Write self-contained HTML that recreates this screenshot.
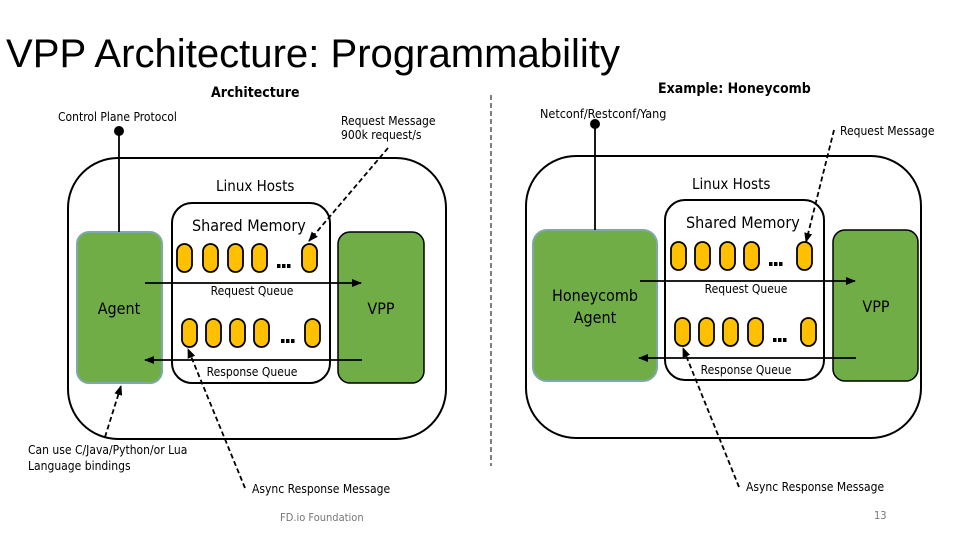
<!DOCTYPE html>
<html><head><meta charset="utf-8"><style>
html,body{margin:0;padding:0;background:#fff;}
svg{display:block;font-family:"Liberation Sans",sans-serif;}
.t{font-family:"DejaVu Sans Condensed","Liberation Sans",sans-serif;}
</style></head><body>
<svg width="960" height="540" viewBox="0 0 960 540" xmlns="http://www.w3.org/2000/svg">
<defs>
<marker id="a" markerWidth="10" markerHeight="10" refX="9" refY="5" orient="auto" markerUnits="userSpaceOnUse"><path d="M0,1 L10,5 L0,9 z" fill="#000"/></marker>
<g id="ov"><rect x="0" y="0" width="15" height="28" rx="7.5" fill="#ffc000" stroke="#000" stroke-width="1.8"/></g>
<g id="dots"><rect x="0" y="0" width="3.5" height="4" fill="#000"/><rect x="5" y="0" width="3.5" height="4" fill="#000"/><rect x="10" y="0" width="3.5" height="4" fill="#000"/></g>
</defs>
<text x="6" y="67" font-size="40" fill="#000" textLength="614" lengthAdjust="spacingAndGlyphs">VPP Architecture: Programmability</text>
<text x="211" y="97" font-size="14" font-weight="bold" class="t">Architecture</text>
<text x="658" y="93" font-size="14" font-weight="bold" class="t">Example: Honeycomb</text>
<line x1="491" y1="95" x2="491" y2="466" stroke="#000" stroke-width="1" stroke-dasharray="5,3"/>

<!-- LEFT -->
<text x="58" y="121" font-size="12" class="t">Control Plane Protocol</text>
<text x="341" y="125" font-size="12" class="t">Request Message</text>
<text x="341" y="139" font-size="12" class="t">900k request/s</text>
<rect x="68" y="158" width="378" height="281" rx="50" fill="none" stroke="#000" stroke-width="2"/>
<text x="216" y="191" font-size="15" class="t">Linux Hosts</text>
<rect x="172" y="203" width="158" height="180" rx="20" fill="#fff" stroke="#000" stroke-width="2"/>
<text x="192" y="231" font-size="16" class="t">Shared Memory</text>
<rect x="77" y="232" width="85" height="151" rx="12" fill="#70ad47" stroke="#7fa9a6" stroke-width="2"/>
<rect x="338" y="232" width="86" height="151" rx="12" fill="#70ad47" stroke="#000" stroke-width="1.5"/>
<text x="119" y="314" font-size="16" text-anchor="middle" class="t">Agent</text>
<text x="381" y="314" font-size="16" text-anchor="middle" class="t">VPP</text>
<line x1="119" y1="131" x2="119" y2="232" stroke="#000" stroke-width="1.8"/>
<circle cx="119" cy="131" r="5" fill="#000"/>
<use href="#ov" x="177" y="244"/><use href="#ov" x="203" y="244"/><use href="#ov" x="228" y="244"/><use href="#ov" x="252" y="244"/><use href="#dots" x="277" y="264"/><use href="#ov" x="302" y="244"/>
<use href="#ov" x="182" y="319"/><use href="#ov" x="206" y="319"/><use href="#ov" x="230" y="319"/><use href="#ov" x="254" y="319"/><use href="#dots" x="281" y="339"/><use href="#ov" x="305" y="319"/>
<line x1="145" y1="283" x2="361" y2="283" stroke="#000" stroke-width="1.8" marker-end="url(#a)"/>
<text x="252" y="295" font-size="12" text-anchor="middle" class="t">Request Queue</text>
<line x1="362" y1="360" x2="145" y2="360" stroke="#000" stroke-width="1.8" marker-end="url(#a)"/>
<text x="252" y="376" font-size="12" text-anchor="middle" class="t">Response Queue</text>
<line x1="388" y1="148" x2="309" y2="241" stroke="#000" stroke-width="1.8" stroke-dasharray="5,3" marker-end="url(#a)"/>
<line x1="245" y1="488" x2="188" y2="349" stroke="#000" stroke-width="1.8" stroke-dasharray="5,3" marker-end="url(#a)"/>
<line x1="105" y1="437" x2="121" y2="386" stroke="#000" stroke-width="1.8" stroke-dasharray="5,3" marker-end="url(#a)"/>
<text x="28" y="454" font-size="12" class="t">Can use C/Java/Python/or Lua</text>
<text x="28" y="470" font-size="12" class="t">Language bindings</text>
<text x="252" y="493" font-size="12" class="t">Async Response Message</text>
<text x="280" y="521" font-size="11" fill="#777" class="t">FD.io Foundation</text>

<!-- RIGHT -->
<text x="540" y="118" font-size="12.5" class="t">Netconf/Restconf/Yang</text>
<text x="840" y="135" font-size="12" class="t">Request Message</text>
<rect x="526" y="156" width="395" height="282" rx="50" fill="none" stroke="#000" stroke-width="2"/>
<text x="692" y="189" font-size="15" class="t">Linux Hosts</text>
<rect x="665" y="200" width="159" height="180" rx="20" fill="#fff" stroke="#000" stroke-width="2"/>
<text x="686" y="228" font-size="16" class="t">Shared Memory</text>
<rect x="533" y="230" width="124" height="151" rx="14" fill="#70ad47" stroke="#7fa9a6" stroke-width="2"/>
<rect x="833" y="230" width="85" height="151" rx="12" fill="#70ad47" stroke="#000" stroke-width="1.5"/>
<text x="595" y="301" font-size="16" text-anchor="middle" class="t">Honeycomb</text>
<text x="595" y="323" font-size="16" text-anchor="middle" class="t">Agent</text>
<text x="876" y="312" font-size="16" text-anchor="middle" class="t">VPP</text>
<line x1="595" y1="124" x2="595" y2="230" stroke="#000" stroke-width="1.8"/>
<circle cx="595" cy="124" r="5" fill="#000"/>
<use href="#ov" x="671" y="242"/><use href="#ov" x="695" y="242"/><use href="#ov" x="720" y="242"/><use href="#ov" x="744" y="242"/><use href="#dots" x="769" y="262"/><use href="#ov" x="797" y="242"/>
<use href="#ov" x="675" y="318"/><use href="#ov" x="699" y="318"/><use href="#ov" x="723" y="318"/><use href="#ov" x="748" y="318"/><use href="#dots" x="773" y="338"/><use href="#ov" x="801" y="318"/>
<line x1="640" y1="281" x2="855" y2="281" stroke="#000" stroke-width="1.8" marker-end="url(#a)"/>
<text x="746" y="293" font-size="12" text-anchor="middle" class="t">Request Queue</text>
<line x1="856" y1="358" x2="639" y2="358" stroke="#000" stroke-width="1.8" marker-end="url(#a)"/>
<text x="746" y="374" font-size="12" text-anchor="middle" class="t">Response Queue</text>
<line x1="834" y1="130" x2="806" y2="242" stroke="#000" stroke-width="1.8" stroke-dasharray="5,3" marker-end="url(#a)"/>
<line x1="739" y1="487" x2="683" y2="348" stroke="#000" stroke-width="1.8" stroke-dasharray="5,3" marker-end="url(#a)"/>
<text x="746" y="491" font-size="12" class="t">Async Response Message</text>
<text x="874" y="519" font-size="11" fill="#777" class="t">13</text>
</svg>
</body></html>
